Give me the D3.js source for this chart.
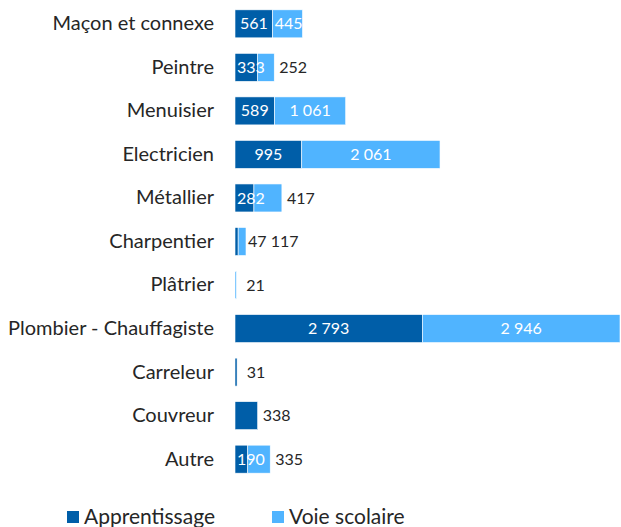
<!DOCTYPE html>
<html>
<head>
<meta charset="utf-8">
<script src="https://cdn.jsdelivr.net/npm/d3@7"></script>
<style>
  body { margin: 0; background: #fff; }
  text { font-family: Lato, "Noto Sans", sans-serif; }
</style>
</head>
<body>
<div id="chart"></div>
<script>
var metiers = ["Maçon et connexe", "Peintre", "Menuisier", "Electricien", "Métallier", "Charpentier",
               "Plâtrier", "Plombier - Chauffagiste", "Carreleur", "Couvreur", "Autre"]
var apprentissage = [561, 333, 589, 995, 282, 47, 0, 2793, 31, 338, 190]
var voieScolaire  = [445, 252, 1061, 2061, 417, 117, 21, 2946, 0, 0, 335]
var series = ["Apprentissage", "Voie scolaire"]
var couleurs = ["#005ea8", "#50b4ff"]

var largeur = 621, hauteur = 527

var svg = d3.select("#chart")
    .append("svg")
    .attr("width", largeur)
    .attr("height", hauteur)

var fr = d3.formatLocale({decimal: ",", thousands: "\u00a0", grouping: [3], currency: ["", " €"]})
var fmt = fr.format(",d")

var lignes = metiers.map(function(m, i) {
    return {metier: m, valeurs: [apprentissage[i], voieScolaire[i]]}
})

var y = d3.scaleBand()
    .domain(metiers)
    .range([2, 481])
    .paddingInner(0.357)
    .paddingOuter(0.18)

var x = d3.scaleLinear()
    .domain([0, d3.max(lignes, function(d) { return d.valeurs[0] + d.valeurs[1] })])
    .range([235, 620])

// axe des catégories (sans trait)
var axeY = svg.append("g")
    .attr("transform", "translate(221,0)")
    .call(d3.axisLeft(y).tickSize(0).tickPadding(7))
axeY.select(".domain").remove()
axeY.selectAll("text")
    .style("font-family", "Lato, 'Noto Sans', sans-serif")
    .style("font-size", "20px")
    .attr("fill", "#262626")

var barres = svg.append("g")
var etiquettes = svg.append("g")

lignes.forEach(function(d) {
    var y0 = y(d.metier), h = y.bandwidth()
    var cumul = 0
    var dernier = d.valeurs[1] > 0 ? 1 : 0
    var dehors = []
    d.valeurs.forEach(function(v, k) {
        if (v <= 0) return
        var x0 = x(cumul), x1 = x(cumul + v)
        cumul += v
        barres.append("rect")
            .attr("x", x0)
            .attr("y", y0)
            .attr("width", x1 - x0)
            .attr("height", h)
            .attr("fill", couleurs[k])
            .attr("stroke", "#fff")
            .attr("stroke-width", 0.6)
        var w = x1 - x0
        var dedans = (k < dernier) ? w >= 8 : w >= 29
        if (dedans) {
            var t = etiquettes.append("text")
                .attr("y", y0 + h / 2)
                .attr("dy", "0.35em")
                .attr("fill", "#fff")
                .style("font-size", "16px")
                .attr("text-anchor", "middle")
                .text(fmt(v))
            var tw = t.node().getComputedTextLength()
            var cx = Math.max((x0 + x1) / 2, x0 + 2 + tw / 2)
            t.attr("x", cx)
        } else {
            dehors.push(fmt(v))
        }
    })
    if (dehors.length) {
        var fin = x(cumul)
        var t2 = etiquettes.append("text")
            .attr("y", y0 + h / 2)
            .attr("dy", "0.35em")
            .attr("fill", "#262626")
            .style("font-size", "16px")
            .attr("text-anchor", "middle")
            .text(dehors.join(" "))
        var tw2 = t2.node().getComputedTextLength()
        t2.attr("x", fin + Math.max(19, tw2 / 2 + 2))
    }
})

// légende
var legendeX = [67, 272]
var legende = svg.selectAll(".legende")
    .data(series)
    .enter()
        .append("g")
        .attr("class", "legende")
        .attr("transform", function(d, i) { return "translate(" + legendeX[i] + ",511)" })
legende.append("rect")
    .attr("width", 12)
    .attr("height", 12)
    .attr("fill", function(d, i) { return couleurs[i] })
legende.append("text")
    .attr("x", 17)
    .attr("y", 13)
    .attr("fill", "#262626")
    .style("font-size", "21px")
    .text(function(d) { return d })
</script>
</body>
</html>
